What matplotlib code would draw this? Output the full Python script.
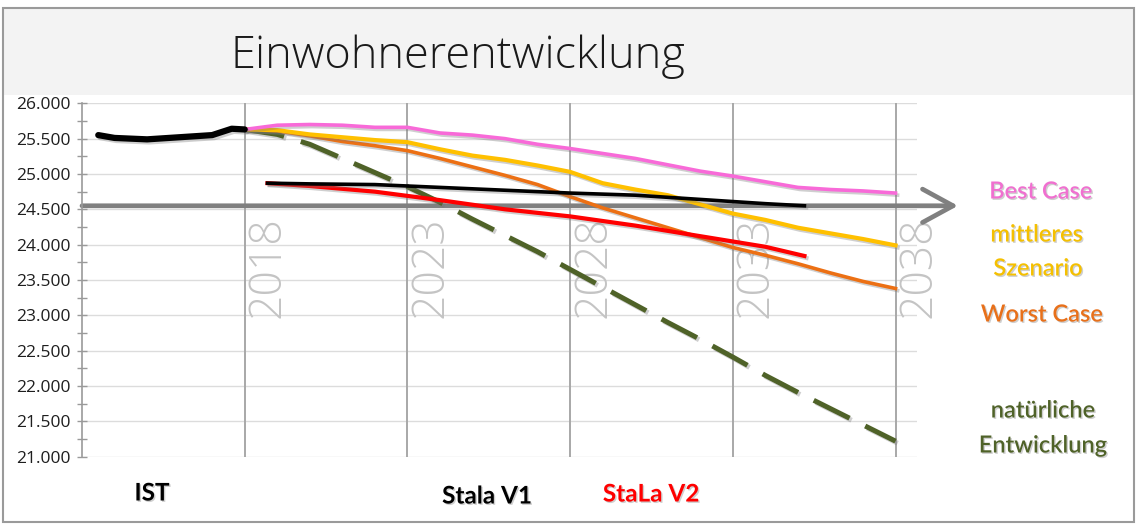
import numpy as np
import matplotlib
matplotlib.use("Agg")
import matplotlib.pyplot as plt
import matplotlib.patheffects as pe
from matplotlib.patches import Rectangle

# --- data ---
ist_years = [2013.5, 2014, 2015, 2016, 2017, 2017.6, 2018]
ist_values = [25550, 25510, 25490, 25520, 25550, 25640, 25630]

scen_years = list(range(2018, 2039))
best_case = [25630, 25690, 25700, 25690, 25660, 25660, 25580, 25550, 25500, 25420, 25360,
             25290, 25220, 25130, 25040, 24970, 24890, 24810, 24780, 24760, 24730]
mittleres = [25630, 25620, 25560, 25520, 25480, 25450, 25350, 25260, 25200, 25120, 25030,
             24870, 24780, 24700, 24570, 24440, 24350, 24240, 24160, 24080, 23990]
worst_case = [25630, 25610, 25540, 25460, 25400, 25330, 25220, 25100, 24980, 24850, 24680,
              24520, 24380, 24240, 24100, 23960, 23850, 23730, 23600, 23480, 23380]
natuerlich = [25630, 25560, 25420, 25220, 25020, 24820, 24600, 24360, 24130, 23900, 23650,
              23400, 23150, 22900, 22660, 22410, 22150, 21910, 21680, 21450, 21220]

stala_years = [2018.7, 2020, 2022, 2024, 2026, 2028, 2030, 2032, 2034, 2035.2]
stala_v1 = [24870, 24860, 24850, 24810, 24770, 24730, 24700, 24640, 24580, 24550]
stala_v2 = [24870, 24830, 24750, 24630, 24500, 24400, 24270, 24120, 23970, 23840]

marker_years = [2018, 2023, 2028, 2033, 2038]
y_ticks = np.arange(21000, 26001, 500)
arrow_level = 24550

W, H = 1137, 527
fig = plt.figure(figsize=(W / 100, H / 100), dpi=100)
fig.patch.set_facecolor("white")

# title band + frame
fig.patches.append(Rectangle((3 / W, 1 - 95 / H), 1131 / W, 87 / H, transform=fig.transFigure,
                             facecolor="#f3f3f3", edgecolor="none", zorder=0))
fig.patches.append(Rectangle((3 / W, 5 / H), 1131 / W, 1 - 13 / H, transform=fig.transFigure,
                             facecolor="none", edgecolor="#9a9a9a", lw=1.5, zorder=0))

ax = fig.add_axes([82 / W, 1 - 456.7 / H, (917 - 82) / W, (456.7 - 103.3) / H])
ax.set_facecolor("none")
ax.set_xlim(2013, 2038.66)
ax.set_ylim(21000, 26000)

for s in ["top", "right", "bottom"]:
    ax.spines[s].set_visible(False)
ax.spines["left"].set_color("#9a9a9a")
ax.spines["left"].set_linewidth(1.2)
ax.set_xticks([])
ax.set_yticks(y_ticks)
ax.set_yticks(np.arange(21250, 26000, 500), minor=True)
ax.set_yticklabels([f"{v:,.0f}".replace(",", ".") for v in y_ticks],
                   fontsize=12.5, family="Open Sans", color="#1e1e1e")
ax.tick_params(axis="y", which="both", direction="inout", length=7, color="#9a9a9a",
               width=1, pad=5)
for v in y_ticks:
    ax.axhline(v, color="#dcdcdc", lw=1, zorder=1)

for yr in marker_years:
    ax.axvline(yr, color="#a8a8a8", lw=1.4, zorder=1)
    ax.text(yr + 0.05, 22960, str(yr), rotation=90, ha="left", va="bottom",
            fontsize=32, family="Open Sans", fontweight="light", color="#c4c4c4", zorder=1)

# gray arrow
ax.annotate("", xy=(2039.92, arrow_level), xytext=(2013, arrow_level),
            arrowprops=dict(arrowstyle="->,head_length=1.1,head_width=0.6", lw=3.4,
                            color="#808080", mutation_scale=20, shrinkA=0, shrinkB=0),
            annotation_clip=False, zorder=2)

shadow = [pe.SimpleLineShadow(offset=(1.5, -1.5), shadow_color="#777777", alpha=0.35), pe.Normal()]

ax.plot(scen_years, natuerlich, color="#4f6228", lw=3.6, linestyle=(0, (8, 3.5)),
        zorder=3, path_effects=shadow)
ax.plot(scen_years, worst_case, color="#ec7014", lw=2.6, zorder=4, path_effects=shadow)
ax.plot(scen_years, mittleres, color="#ffc000", lw=3.0, zorder=5, path_effects=shadow)
ax.plot(scen_years, best_case, color="#f86ad8", lw=2.6, zorder=6, path_effects=shadow)
ax.plot(stala_years, stala_v2, color="#ff0000", lw=3.0, zorder=7, path_effects=shadow)
ax.plot(stala_years, stala_v1, color="black", lw=2.6, zorder=7, path_effects=shadow)
ax.plot(ist_years, ist_values, color="black", lw=4.5, zorder=8, solid_capstyle="round",
        path_effects=shadow)

# title
fig.text(458 / W, 1 - 57 / H, "Einwohnerentwicklung", ha="center", va="center",
         fontsize=32.5, family="Open Sans", fontweight="light", color="#1a1a1a")

txt_shadow = [pe.withSimplePatchShadow(offset=(1, -1), shadow_rgbFace="#888888", alpha=0.4)]
labels = [
    ("Best Case", 1041, 191, "#f070d0"),
    ("mittleres", 1037, 234, "#f5c000"),
    ("Szenario", 1038, 268, "#f5c000"),
    ("Worst Case", 1042, 314, "#e8701a"),
    ("natürliche", 1043, 410, "#4f6228"),
    ("Entwicklung", 1043, 445, "#4f6228"),
]
for t, x, y, c in labels:
    fig.text(x / W, 1 - y / H, t, ha="center", va="center", fontsize=17, family="Lato",
             fontweight="semibold", color=c, path_effects=txt_shadow)

for t, x, y, c in [("IST", 152, 493, "black"), ("Stala V1", 487, 496, "black"),
                   ("StaLa V2", 651, 494, "#ff0000")]:
    fig.text(x / W, 1 - y / H, t, ha="center", va="center", fontsize=17.5, family="Lato",
             fontweight="bold", color=c, path_effects=txt_shadow)

fig.savefig("out.png", dpi=100)
